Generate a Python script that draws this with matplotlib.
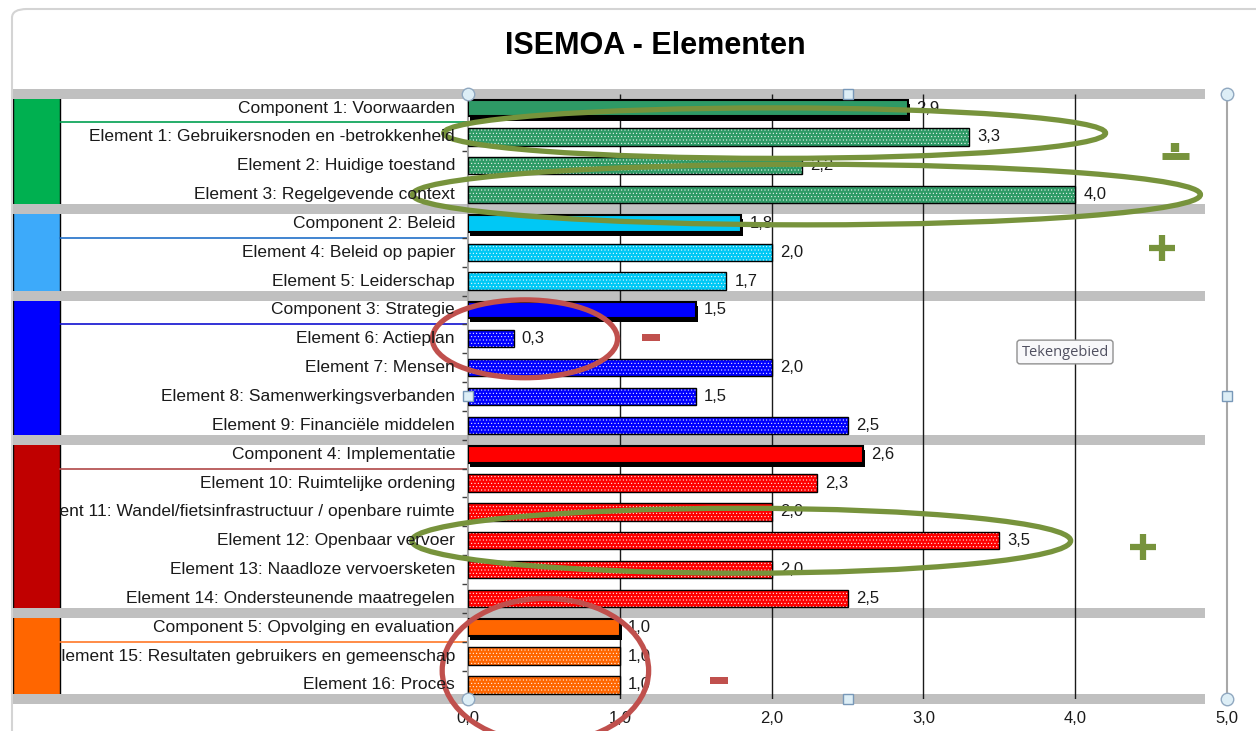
import matplotlib
matplotlib.use('Agg')
import matplotlib.pyplot as plt
from matplotlib import patches, transforms
from matplotlib import patheffects as pe

plt.rcParams['font.family'] = ['Liberation Sans', 'DejaVu Sans']
plt.rcParams['hatch.linewidth'] = 0.35

labels = [
    'Component 1: Voorwaarden',
    'Element 1: Gebruikersnoden en -betrokkenheid',
    'Element 2: Huidige toestand',
    'Element 3: Regelgevende context',
    'Component 2: Beleid',
    'Element 4: Beleid op papier',
    'Element 5: Leiderschap',
    'Component 3: Strategie',
    'Element 6: Actieplan',
    'Element 7: Mensen',
    'Element 8: Samenwerkingsverbanden',
    'Element 9: Financiële middelen',
    'Component 4: Implementatie',
    'Element 10: Ruimtelijke ordening',
    'Element 11: Wandel/fietsinfrastructuur / openbare ruimte',
    'Element 12: Openbaar vervoer',
    'Element 13: Naadloze vervoersketen',
    'Element 14: Ondersteunende maatregelen',
    'Component 5: Opvolging en evaluation',
    'Element 15: Resultaten gebruikers en gemeenschap',
    'Element 16: Proces',
]
values = [2.9, 3.3, 2.2, 4.0, 1.8, 2.0, 1.7, 1.5, 0.3, 2.0, 1.5, 2.5,
          2.6, 2.3, 2.0, 3.5, 2.0, 2.5, 1.0, 1.0, 1.0]
groups = [0, 0, 0, 0, 1, 1, 1, 2, 2, 2, 2, 2, 3, 3, 3, 3, 3, 3, 4, 4, 4]
is_comp = [l.startswith('Component') for l in labels]
xticks = [0, 1, 2, 3, 4, 5]

box_colors = ['#00B050', '#3DAAFA', '#0000FF', '#C00000', '#FF6600']
bar_colors = ['#2E9A66', '#00C8F5', '#0000FF', '#FF0000', '#FF6600']
line_colors = ['#00A050', '#2070C8', '#1010D0', '#B04848', '#FF7828']
gray = '#C0C0C0'
olive = '#77933C'
redann = '#C0504D'
txt = '#1a1a1a'

W, H = 1256, 731
fig = plt.figure(figsize=(W / 100, H / 100), dpi=100)


def fx(x):
    return x / W


def fy(y):
    return 1 - y / H


# chart frame
fig.patches.append(patches.FancyBboxPatch(
    (fx(12), fy(760)), fx(1300) - fx(12), fy(9) - fy(760),
    boxstyle='round,pad=0,rounding_size=0.012', transform=fig.transFigure,
    fill=False, ec='#D4D4D4', lw=1.5))

n = len(labels)
rows = list(range(n))
ax = fig.add_axes([fx(468), fy(699.4), fx(1227) - fx(468), fy(93.6) - fy(699.4)])
ax.set_xlim(0, 5)
ax.set_ylim(n - 0.5, -0.5)
ax.patch.set_alpha(0)

lab = fig.add_axes([fx(60), fy(699.4), fx(468) - fx(60), fy(93.6) - fy(699.4)])
lab.set_xlim(60, 468)
lab.set_ylim(n - 0.5, -0.5)
lab.axis('off')

trans = transforms.blended_transform_factory(fig.transFigure, ax.transData)

# group boxes, separators, lines under components
bounds = [-0.5]
for g in range(len(box_colors)):
    idx = [i for i in rows if groups[i] == g]
    top, bot = idx[0] - 0.5, idx[-1] + 0.5
    bounds.append(bot)
    ax.add_patch(patches.Rectangle((fx(13), top), fx(60) - fx(13), bot - top,
                                   transform=trans, fc=box_colors[g], ec='black',
                                   lw=1, clip_on=False, zorder=0.2))
    ax.plot([fx(60), fx(468)], [idx[0] + 0.5] * 2, transform=trans,
            color=line_colors[g], lw=1.2, clip_on=False, zorder=0.3)
for b in bounds:
    ax.plot([fx(12), fx(1205)], [b, b], transform=trans, color=gray,
            lw=7.2, clip_on=False, zorder=0.5, solid_capstyle='butt')

ax.vlines(xticks[1:-1], -0.5, n - 0.5, color=txt, lw=1, zorder=1)

for i in rows:
    c = bar_colors[groups[i]]
    if is_comp[i]:
        ax.barh(i, values[i], height=0.58, color=c, edgecolor='black', lw=1.5,
                zorder=3, path_effects=[pe.SimplePatchShadow(offset=(1.5, -3),
                                        shadow_rgbFace='black', alpha=1),
                                        pe.Normal()])
    else:
        ax.barh(i, values[i], height=0.6, color=c, edgecolor='white',
                hatch='.....', lw=0, zorder=3)
        ax.barh(i, values[i], height=0.6, fill=False, edgecolor='black',
                lw=1, zorder=4)
    ax.annotate(f'{values[i]:.1f}'.replace('.', ','), (values[i], i),
                xytext=(6, 0), textcoords='offset points', va='center',
                ha='left', fontsize=12, color=txt, zorder=5)
    lab.text(455, i, labels[i], ha='right', va='center', fontsize=12.5,
             color=txt, clip_on=True)

ax.set_xticks(xticks)
ax.set_xticklabels([f'{t:.1f}'.replace('.', ',') for t in xticks],
                   fontsize=12, color=txt)
ax.set_yticks([i + 0.5 for i in rows[:-1]])
ax.set_yticklabels([])
ax.tick_params(axis='x', length=0, pad=8)
ax.tick_params(axis='y', length=4, color='#404040', width=1)
for s in ['top', 'bottom']:
    ax.spines[s].set_visible(False)
for s in ['left', 'right']:
    ax.spines[s].set_color('#A8A8A8')
    ax.spines[s].set_linewidth(1.5)

fig.text(fx(655), fy(46), 'ISEMOA - Elementen', ha='center', va='center',
         fontsize=22, weight='bold', color='black')

# hand-drawn annotations
for (cx, cy, w, h, col) in [(2.02, 0.87, 4.36, 1.75, olive),
                            (2.23, 3.0, 5.19, 2.1, olive),
                            (1.80, 15.0, 4.34, 2.25, olive),
                            (0.375, 8.0, 1.22, 2.7, redann),
                            (0.51, 19.5, 1.36, 5.0, redann)]:
    ax.add_patch(patches.Ellipse((cx, cy), w, h, fill=False, ec=col, lw=3.8,
                                 clip_on=False, zorder=6))

kw = dict(color=olive, solid_capstyle='butt', clip_on=False, zorder=6)
ax.plot([4.486, 4.657], [4.85, 4.85], lw=4.5, **kw)
ax.plot([4.57, 4.57], [4.40, 5.30], lw=4.5, **kw)
ax.plot([4.36, 4.53], [15.2, 15.2], lw=4.5, **kw)
ax.plot([4.445, 4.445], [14.77, 15.67], lw=4.5, **kw)
ax.plot([4.572, 4.75], [1.65, 1.65], lw=5, **kw)
ax.plot([4.66, 4.66], [1.21, 1.53], lw=6, **kw)
for (x0, y0) in [(1.149, 7.83), (1.594, 19.72)]:
    ax.add_patch(patches.Rectangle((x0, y0), 0.119, 0.25, fc=redann, ec='none',
                                   clip_on=False, zorder=6))

# selection handles and tooltip
ax.plot([0, 5, 0, 5], [-0.5, -0.5, n - 0.5, n - 0.5], 'o', ms=9, mfc='#DDEEF6',
        mec='#90A8C0', clip_on=False, zorder=7)
ax.plot([2.5, 2.5, 0, 5], [-0.5, n - 0.5, 10, 10], 's', ms=7, mfc='#DDEEF6',
        mec='#7898B8', clip_on=False, zorder=7)
fig.text(fx(1065), fy(352), 'Tekengebied', ha='center', va='center',
         fontsize=10.5, color='#505060', family=['Open Sans', 'DejaVu Sans'],
         bbox=dict(boxstyle='round,pad=0.3,rounding_size=0.2', fc='#F8F8FA',
                   ec='#909090', lw=1))

fig.savefig('out.png', dpi=100)
